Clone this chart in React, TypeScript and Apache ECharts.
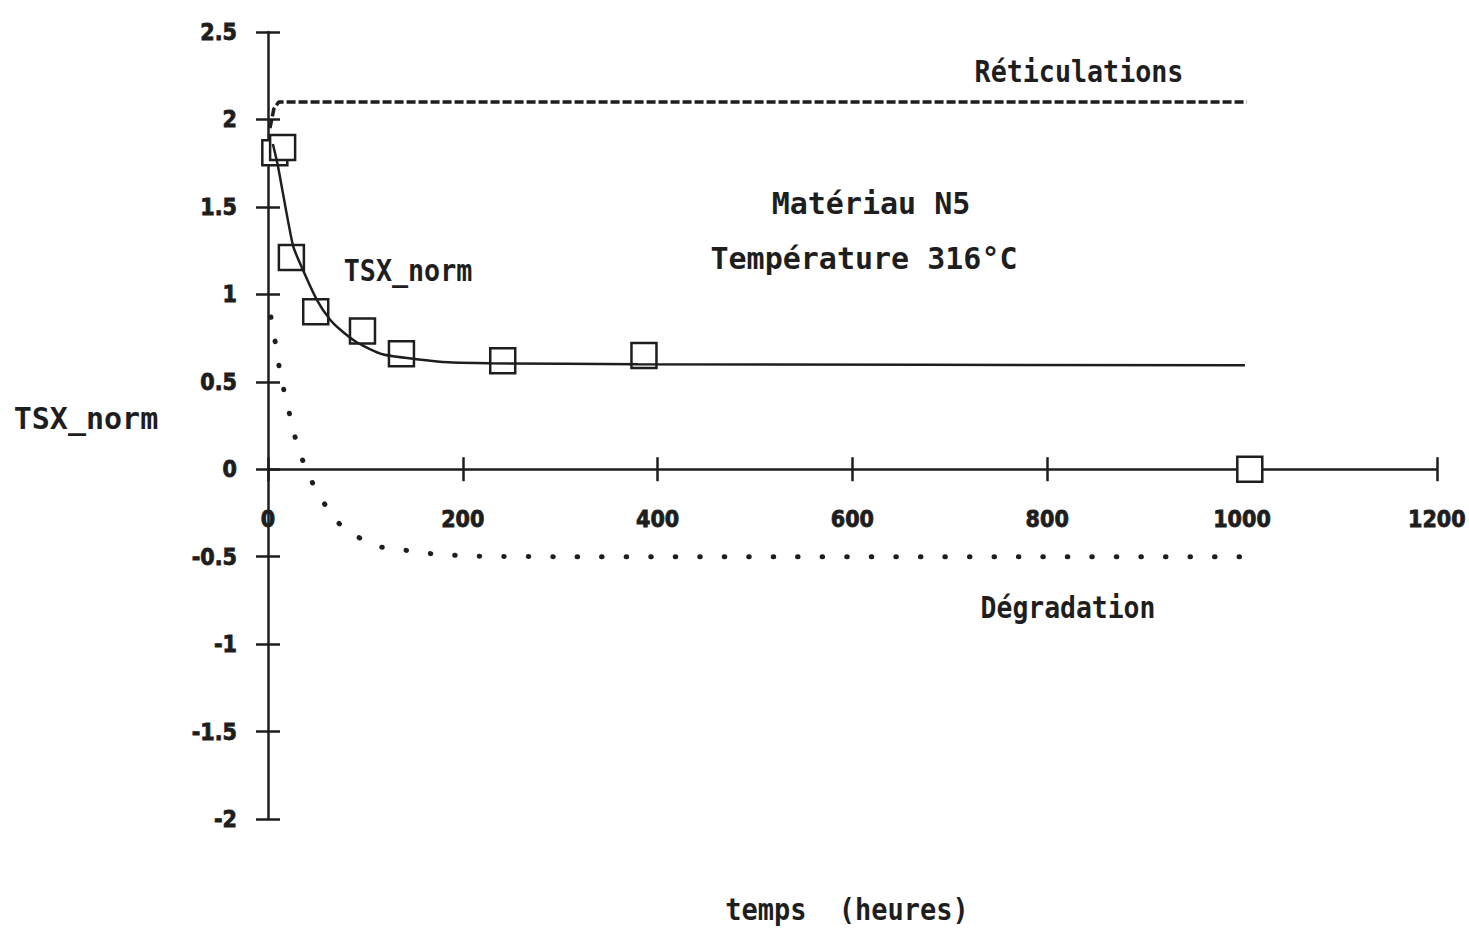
import React, { useEffect, useRef } from "react";
import * as echarts from "echarts";

// Axis scales
const xTicks = [0, 200, 400, 600, 800, 1000, 1200];
const yTicks = [-2, -1.5, -1, -0.5, 0, 0.5, 1, 1.5, 2, 2.5];

// Measured TSX_norm (squares)
const measuredTimes = [7, 15, 24, 49, 97, 137, 241, 386, 1008];
const measuredTsx = [1.81, 1.84, 1.21, 0.9, 0.79, 0.66, 0.62, 0.65, 0];

// Fitted TSX_norm curve (solid)
const fitTimes = [5, 10, 25.6, 35.8, 50, 63.4, 73.7, 91, 117.6, 152.4, 186, 227, 380, 1003];
const fitTsx = [1.86, 1.74, 1.28, 1.14, 0.97, 0.857, 0.8, 0.726, 0.657, 0.629, 0.611, 0.606, 0.6, 0.594];

// Réticulations component (dashed)
const crosslinkTimes = [2, 6, 11, 1005];
const crosslinkValues = [1.95, 2.06, 2.1, 2.1];

// Dégradation component (dotted)
const degradTimes = [3, 7, 11, 16, 21.5, 27.5, 35, 45, 56, 71, 90, 112, 137, 162, 185, 210, 300, 1005];
const degradValues = [0.87, 0.74, 0.6, 0.46, 0.33, 0.19, 0.06, -0.07, -0.18, -0.3, -0.38, -0.44, -0.46, -0.48, -0.49, -0.497, -0.5, -0.5];

const INK = "#1e1e1e";
const MONO = "'DejaVu Sans Mono', 'Liberation Mono', monospace";
const TICK_FONT = "'DejaVu Sans Condensed', 'DejaVu Sans', sans-serif";

const GRID = { left: 268, right: 28, top: 32, bottom: 112 };
const CHART_H = 931;

const pairs = (xs: number[], ys: number[]) => xs.map((x, i) => [x, ys[i]]);

const label = (text: string, x: number, y: number, size: number, scaleX = 1) => ({
  type: "text",
  x,
  y,
  scaleX,
  style: {
    text,
    fill: INK,
    font: `bold ${size}px ${MONO}`,
    textAlign: "center",
    textVerticalAlign: "middle",
  },
});

export default function App() {
  const ref = useRef<HTMLDivElement>(null);

  useEffect(() => {
    if (!ref.current) return;
    const chart = echarts.init(ref.current, undefined, { renderer: "svg" });

    const yMin = yTicks[0];
    const yMax = yTicks[yTicks.length - 1];
    // the time axis sits on the y = 0 line: lift it from the grid's bottom edge
    const plotH = CHART_H - GRID.top - GRID.bottom;
    const zeroLift = -(plotH * (0 - yMin)) / (yMax - yMin);

    const tickStyle = { color: INK, width: 2.5 };
    const tickLabel = {
      color: INK,
      fontFamily: TICK_FONT,
      fontWeight: 900,
      fontSize: 23,
      textBorderColor: INK,
      textBorderWidth: 0.8,
      formatter: (v: number) => String(v),
    };
    const xBase = {
      type: "value",
      min: xTicks[0],
      max: xTicks[xTicks.length - 1],
      interval: xTicks[1] - xTicks[0],
      position: "bottom",
      offset: zeroLift,
      splitLine: { show: false },
    };
    const yBase = {
      type: "value",
      min: yMin,
      max: yMax,
      interval: yTicks[1] - yTicks[0],
      position: "left",
      splitLine: { show: false },
    };

    chart.setOption({
      animation: false,
      backgroundColor: "#ffffff",
      grid: GRID,
      xAxis: [
        {
          ...xBase,
          axisLine: { onZero: false, lineStyle: { color: INK, width: 2.5 } },
          axisTick: { length: 12, lineStyle: tickStyle },
          axisLabel: { ...tickLabel, margin: 38 },
        },
        {
          ...xBase,
          axisLine: { show: false, onZero: false },
          axisTick: { inside: true, length: 12, lineStyle: tickStyle },
          axisLabel: { show: false },
        },
      ],
      yAxis: [
        {
          ...yBase,
          axisLine: { onZero: false, lineStyle: { color: INK, width: 2.5 } },
          axisTick: { length: 12, lineStyle: tickStyle },
          axisLabel: { ...tickLabel, margin: 31 },
        },
        {
          ...yBase,
          axisLine: { show: false, onZero: false },
          axisTick: { inside: true, length: 12, lineStyle: tickStyle },
          axisLabel: { show: false },
        },
      ],
      series: [
        {
          name: "Réticulations",
          type: "line",
          data: pairs(crosslinkTimes, crosslinkValues),
          showSymbol: false,
          lineStyle: { color: INK, width: 3.5, type: [9, 3] },
        },
        {
          name: "Dégradation",
          type: "line",
          data: pairs(degradTimes, degradValues),
          showSymbol: false,
          smooth: 0.2,
          lineStyle: { color: INK, width: 5, type: [0.5, 24], cap: "round" },
        },
        {
          name: "TSX_norm ajusté",
          type: "line",
          data: pairs(fitTimes, fitTsx),
          showSymbol: false,
          smooth: 0.2,
          lineStyle: { color: INK, width: 2.5 },
        },
        {
          name: "TSX_norm",
          type: "scatter",
          data: pairs(measuredTimes, measuredTsx),
          symbol: "rect",
          symbolSize: 25,
          itemStyle: { color: "#ffffff", borderColor: INK, borderWidth: 2.5, opacity: 1 },
        },
      ],
      graphic: [
        label("Réticulations", 1079, 72, 30, 0.89),
        label("Matériau N5", 871, 203, 30),
        label("Température 316°C", 864, 258, 30),
        label("TSX_norm", 408, 271, 30, 0.89),
        label("Dégradation", 1068, 608, 30, 0.88),
        label("TSX_norm", 86, 418, 30),
        label("temps  (heures)", 847, 910, 30, 0.9),
      ],
    });

    return () => chart.dispose();
  }, []);

  return (
    <div
      ref={ref}
      style={{ position: "fixed", left: 0, top: 0, width: 1469, height: CHART_H, background: "#fff" }}
    />
  );
}
